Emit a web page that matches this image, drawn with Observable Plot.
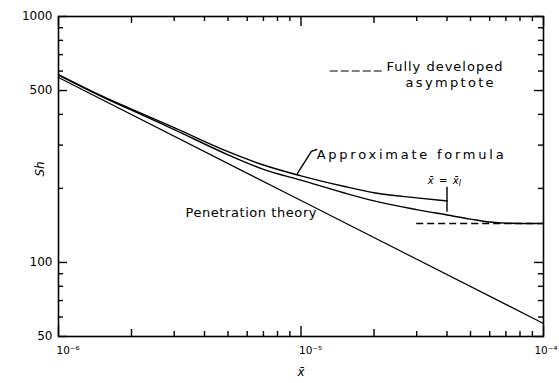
<!DOCTYPE html>
<html><head><meta charset="utf-8">
<script src="https://cdn.jsdelivr.net/npm/d3@7"></script>
<script src="https://cdn.jsdelivr.net/npm/@observablehq/plot@0.6"></script>
<style>body{margin:0;background:#fff}</style>
</head><body><div id="chart"></div>
<script>
// ---- data ----
const exactX   = [1e-6, 1.5e-6, 2e-6, 3e-6, 5e-6, 7e-6, 1e-5, 1.5e-5, 2e-5, 3e-5, 4e-5, 5e-5, 6e-5, 7e-5, 1e-4];
const exactSh  = [578, 474, 416, 347, 274, 239, 216, 192, 178, 164, 156, 150, 146, 144.5, 144];
const approxX  = [1e-6, 1.5e-6, 2e-6, 3e-6, 5e-6, 7e-6, 1e-5, 1.5e-5, 2e-5, 3e-5, 4e-5];
const approxSh = [581, 477, 420, 353, 282, 249, 225, 204, 192, 183, 178];
const penetrationX  = [1e-6, 1e-5, 1e-4];
const penetrationSh = [565, 178.5, 56.5];
const asymptoteSh = 144;
const asymptoteX  = [3e-5, 1e-4];
const xl = 4e-5;
const xlSh = [160, 202];
const legendDashX = [1.32e-5, 2.17e-5];
const legendDashSh = 600;
const leaderX  = [9.67e-6, 1.104e-5, 1.16e-5];
const leaderSh = [230, 283, 288];

const yTickLabels = [1000, 500, 100, 50];
const yTicksMajor = [50, 100, 500, 1000];
const yTicksMinor = [60, 70, 80, 90, 200, 300, 400, 600, 700, 800, 900];
const xTickLabels = ["10⁻⁶", "10⁻⁵", "10⁻⁴"];
const xTicksDecade = [1e-6, 1e-5, 1e-4];
const xTicksTwo = [2e-6, 2e-5];
const xTicksMinor = [3e-6,4e-6,5e-6,6e-6,7e-6,8e-6,9e-6,3e-5,4e-5,5e-5,6e-5,7e-5,8e-5,9e-5];

const annotations = [
  {text: "Penetration theory",  x: 3.34e-6, y: 159},
  {text: "Approximate formula", x: 1.16e-5, y: 275},
  {text: "Fully developed",     x: 2.25e-5, y: 622},
  {text: "asymptote",           x: 2.70e-5, y: 537}
];
const xlLabel = {text: "x̄ = x̄", sub: "l", x: 3.33e-5, y: 215};

// ---- build tables ----
const exact = exactX.map((x, i) => ({x, sh: exactSh[i]}));
const approx = approxX.map((x, i) => ({x, sh: approxSh[i]}));
const penetration = penetrationX.map((x, i) => ({x, sh: penetrationSh[i]}));
const leader = leaderX.map((x, i) => ({x, sh: leaderSh[i]}));

const W = 559, H = 383, mL = 58, mR = 16, mT = 16, mB = 47;
const frameW = W - mL - mR, frameH = H - mT - mB;
const font = "DejaVu Sans";
const ink = "black";

// inward ticks on all four sides of the frame
function yTicks(data, size) {
  return [
    Plot.tickY(data, {y: d => d, insetRight: frameW - size, stroke: ink, strokeWidth: 1.4}),
    Plot.tickY(data, {y: d => d, insetLeft: frameW - size, stroke: ink, strokeWidth: 1.4})
  ];
}
function xTicks(data, size) {
  return [
    Plot.tickX(data, {x: d => d, insetTop: frameH - size, stroke: ink, strokeWidth: 1.4}),
    Plot.tickX(data, {x: d => d, insetBottom: frameH - size, stroke: ink, strokeWidth: 1.4})
  ];
}

const chart = Plot.plot({
  width: W, height: H,
  marginLeft: mL, marginRight: mR, marginTop: mT, marginBottom: mB,
  x: {type: "log", domain: [1e-6, 1e-4], axis: null},
  y: {type: "log", domain: [50, 1000], axis: null},
  style: {fontFamily: font, fontSize: "11px", background: "#fff", color: ink},
  marks: [
    Plot.text(yTickLabels, {y: d => d, frameAnchor: "left", dx: -6, textAnchor: "end",
      text: d => String(d), fontSize: 12}),
    Plot.text(xTicksDecade.slice(0, 2), {x: d => d, frameAnchor: "bottom", dy: 17, dx: -2, textAnchor: "start",
      text: (d, i) => xTickLabels[i], fontSize: 10.5}),
    Plot.text(xTicksDecade.slice(2), {x: d => d, frameAnchor: "bottom", dy: 17, dx: 14, textAnchor: "end",
      text: (d, i) => xTickLabels[2 + i], fontSize: 10.5}),
    Plot.text(["Sh"], {frameAnchor: "left", dx: -18, rotate: -90, fontStyle: "italic", fontSize: 12}),
    Plot.text(["x̄"], {frameAnchor: "bottom", dy: 39, fontStyle: "italic", fontSize: 12}),
    Plot.line(penetration, {x: "x", y: "sh", stroke: ink, strokeWidth: 1.2}),
    Plot.line(exact, {x: "x", y: "sh", stroke: ink, strokeWidth: 1.4, curve: "monotone-x"}),
    Plot.line(approx, {x: "x", y: "sh", stroke: ink, strokeWidth: 1.4, curve: "monotone-x"}),
    Plot.ruleY([asymptoteSh], {x1: asymptoteX[0], x2: asymptoteX[1], stroke: ink, strokeWidth: 1.4, strokeDasharray: "7,4"}),
    Plot.ruleY([legendDashSh], {x1: legendDashX[0], x2: legendDashX[1], stroke: ink, strokeWidth: 1.1, strokeDasharray: "8,3"}),
    Plot.ruleX([xl], {y1: xlSh[0], y2: xlSh[1], stroke: ink, strokeWidth: 1.4}),
    Plot.line(leader, {x: "x", y: "sh", stroke: ink, strokeWidth: 1.4}),
    Plot.text(annotations, {x: "x", y: "y", text: "text", textAnchor: "start", fontSize: 13}),
    Plot.text([xlLabel], {x: "x", y: "y", text: "text", textAnchor: "start", fontSize: 10, fontStyle: "italic"}),
    Plot.text([xlLabel], {x: "x", y: "y", text: "sub", textAnchor: "start", dx: 31, dy: 3, fontSize: 8, fontStyle: "italic"}),
    Plot.frame({stroke: ink, strokeWidth: 1.6}),
    yTicks(yTicksMajor, 9), yTicks(yTicksMinor, 5),
    xTicks(xTicksDecade, 10), xTicks(xTicksTwo, 7), xTicks(xTicksMinor, 5)
  ]
});

const widths = {"Penetration theory": 131, "Approximate formula": 187, "Fully developed": 116, "asymptote": 88, "x̄ = x̄": 31};
d3.select(chart).selectAll("text").each(function() {
  const w = widths[this.textContent];
  if (w) { this.setAttribute("textLength", w); this.setAttribute("lengthAdjust", "spacing"); }
});
document.getElementById("chart").append(chart);
</script></body></html>
